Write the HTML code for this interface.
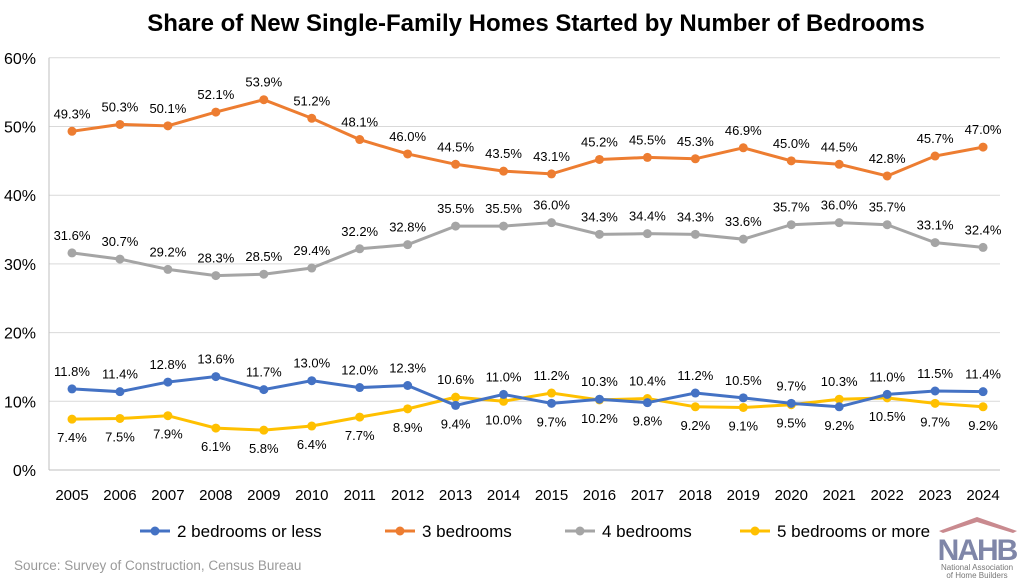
<!DOCTYPE html><html><head><style>body{margin:0;background:#fff}svg text{font-family:"Liberation Sans",sans-serif}</style></head><body>
<svg id="s" width="1024" height="579" xmlns="http://www.w3.org/2000/svg">
<text x="536" y="31" text-anchor="middle" font-size="24" font-weight="bold" fill="#000">Share of New Single-Family Homes Started by Number of Bedrooms</text>
<text x="14" y="570" font-size="13.5" fill="#9a9a9a">Source: Survey of Construction, Census Bureau</text>
<g transform="translate(937,517)">
<path d="M2 14 L40 0 L80 14 L76 16 L40 5 L6 16Z" fill="#c98a8f"/>
<text x="40" y="43" text-anchor="middle" font-size="30" font-weight="bold" fill="#7f86a8" letter-spacing="-2">NAHB</text>
<text x="40" y="53" text-anchor="middle" font-size="8" fill="#777">National Association</text>
<text x="40" y="61" text-anchor="middle" font-size="8" fill="#777">of Home Builders</text>
</g>
</svg>
<script>
const s=document.getElementById('s'),N='http://www.w3.org/2000/svg';
function el(t,a,txt){const e=document.createElementNS(N,t);for(const k in a)e.setAttribute(k,a[k]);if(txt!=null)e.textContent=txt;s.appendChild(e);return e}
const Y=v=>470-v*6.87, X=i=>72+i*47.95;
for(let g=1;g<=6;g++)el('line',{x1:49,x2:1000,y1:Y(g*10),y2:Y(g*10),stroke:'#d9d9d9'});
el('line',{x1:49,x2:49,y1:Y(60),y2:470,stroke:'#bfbfbf'});
el('line',{x1:49,x2:1000,y1:470,y2:470,stroke:'#bfbfbf'});
for(let g=0;g<=6;g++)el('text',{x:36,y:Y(g*10)+6,'text-anchor':'end','font-size':16,fill:'#000'},g*10+'%');
for(let i=0;i<20;i++)el('text',{x:X(i),y:500,'text-anchor':'middle','font-size':15,fill:'#000'},2005+i);
const d={
b:[11.8,11.4,12.8,13.6,11.7,13.0,12.0,12.3,9.4,11.0,9.7,10.3,9.8,11.2,10.5,9.7,9.2,11.0,11.5,11.4],
o:[49.3,50.3,50.1,52.1,53.9,51.2,48.1,46.0,44.5,43.5,43.1,45.2,45.5,45.3,46.9,45.0,44.5,42.8,45.7,47.0],
g:[31.6,30.7,29.2,28.3,28.5,29.4,32.2,32.8,35.5,35.5,36.0,34.3,34.4,34.3,33.6,35.7,36.0,35.7,33.1,32.4],
y:[7.4,7.5,7.9,6.1,5.8,6.4,7.7,8.9,10.6,10.0,11.2,10.2,10.4,9.2,9.1,9.5,10.3,10.5,9.7,9.2]};
const c={b:'#4472c4',o:'#ed7d31',g:'#a5a5a5',y:'#ffc000'};
for(const k of ['g','y','b','o']){el('polyline',{points:d[k].map((v,i)=>X(i)+','+Y(v)).join(' '),fill:'none',stroke:c[k],'stroke-width':3});
d[k].forEach((v,i)=>el('circle',{cx:X(i),cy:Y(v),r:4.5,fill:c[k]}));}
const f=v=>v.toFixed(1)+'%';
for(let i=0;i<20;i++){
el('text',{x:X(i),y:Y(d.o[i])-13,'text-anchor':'middle','font-size':13},f(d.o[i]));
el('text',{x:X(i),y:Y(d.g[i])-13,'text-anchor':'middle','font-size':13},f(d.g[i]));
const hi=Math.max(d.b[i],d.y[i]),lo=Math.min(d.b[i],d.y[i]);
el('text',{x:X(i),y:Y(hi)-13,'text-anchor':'middle','font-size':13},f(hi));
el('text',{x:X(i),y:Y(lo)+23,'text-anchor':'middle','font-size':13},f(lo));}
[['b','2 bedrooms or less',140],['o','3 bedrooms',385],['g','4 bedrooms',565],['y','5 bedrooms or more',740]].forEach(([k,t,x])=>{
el('line',{x1:x,x2:x+30,y1:531,y2:531,stroke:c[k],'stroke-width':3});el('circle',{cx:x+15,cy:531,r:4.5,fill:c[k]});
el('text',{x:x+37,y:537,'font-size':17},t);});
</script></body></html>
